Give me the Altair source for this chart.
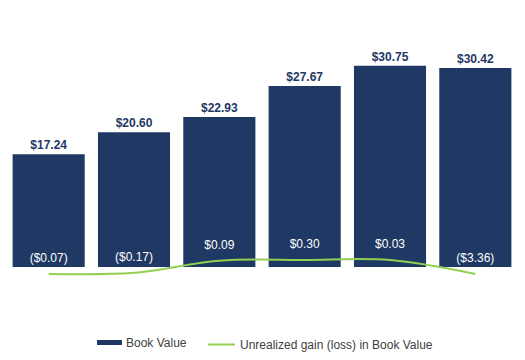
import altair as alt
import pandas as pd

periods = ["P1", "P2", "P3", "P4", "P5", "P6"]
book_value = [17.24, 20.60, 22.93, 27.67, 30.75, 30.42]
unrealized = [-0.07, -0.17, 0.09, 0.30, 0.03, -3.36]
# plotted level of the (smoothed) unrealized gain line, in primary-axis units
line_level = [-1.07, -0.90, 0.95, 1.07, 1.05, -1.07]

NAVY = "#1F3864"
GREEN = "#92D050"
FONT = "Liberation Sans"


def money(v):
    s = f"${abs(v):.2f}"
    return f"({s})" if v < 0 else s


df = pd.DataFrame({
    "period": periods,
    "book_value": book_value,
    "line_level": line_level,
    "bv_label": [money(v) for v in book_value],
    "ug_label": [money(v) for v in unrealized],
    "s1": "Book Value",
    "s2": "Unrealized gain (loss) in Book Value",
})

x = alt.X("period:N", sort=periods, axis=None,
          scale=alt.Scale(paddingInner=0.155, paddingOuter=0.0775))
yscale = alt.Scale(domain=[-2, 35], nice=False, zero=False)

base = alt.Chart(df)

bars = base.mark_bar().encode(
    x=x,
    y=alt.Y("book_value:Q", scale=yscale, axis=None),
    y2=alt.datum(0),
    fill=alt.Fill("s1:N", scale=alt.Scale(domain=["Book Value"], range=[NAVY]),
                  legend=alt.Legend(orient="none", legendX=91, legendY=292,
                                    title=None, labelFont=FONT, labelFontSize=12,
                                    labelColor="#404040", labelLimit=0,
                                    symbolType="M-1,-0.2H1V0.2H-1Z",
                                    symbolSize=625, symbolStrokeWidth=0,
                                    labelOffset=4)),
)

top_labels = base.mark_text(baseline="alphabetic", dy=-5, font=FONT, fontSize=12,
                            fontWeight="bold", color=NAVY).encode(
    x=x, y=alt.Y("book_value:Q", scale=yscale), text="bv_label:N")

line = base.mark_line(interpolate="catmull-rom", strokeWidth=2).encode(
    x=x,
    y=alt.Y("line_level:Q", scale=yscale),
    stroke=alt.Stroke("s2:N", scale=alt.Scale(domain=["Unrealized gain (loss) in Book Value"], range=[GREEN]),
                      legend=alt.Legend(orient="none", legendX=201, legendY=292,
                                        title=None, labelFont=FONT, labelFontSize=12,
                                        labelColor="#404040", labelLimit=0,
                                        symbolType="stroke",
                                        symbolSize=729, symbolStrokeWidth=2,
                                        labelOffset=4)),
)

ug_labels = base.mark_text(baseline="middle", dy=-16, font=FONT, fontSize=12,
                           color="white").encode(
    x=x, y=alt.Y("line_level:Q", scale=yscale), text="ug_label:N")

chart = alt.layer(bars, top_labels, line, ug_labels).properties(
    width=512, height=242,
    padding={"left": 6, "top": 38, "right": 7, "bottom": 80},
    autosize="none",
    background="white",
).configure_view(stroke=None, strokeWidth=0)

chart.save("out.html", embed_options={"renderer": "svg", "actions": False})
